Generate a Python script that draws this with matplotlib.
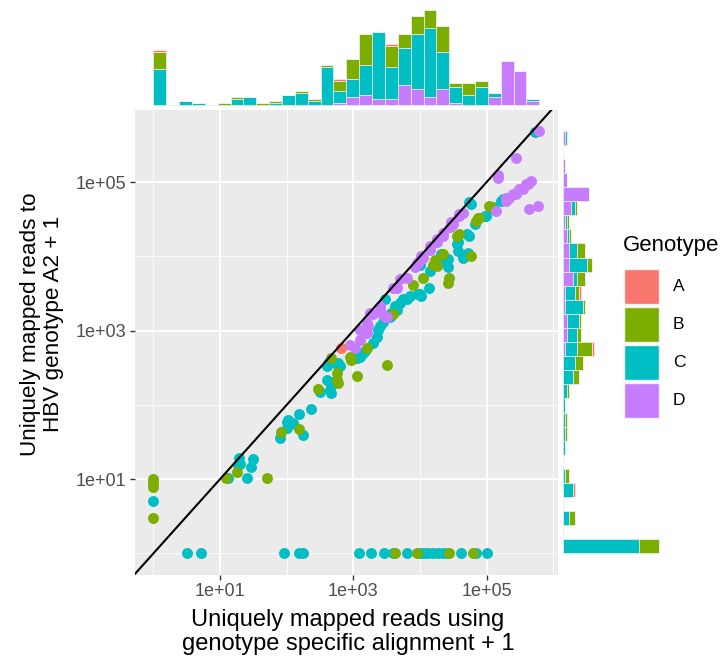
import matplotlib
matplotlib.use('Agg')
import matplotlib.pyplot as plt
import numpy as np
from matplotlib.patches import Rectangle

plt.rcParams['font.family'] = ['Liberation Sans', 'DejaVu Sans']

genotypes = ['A', 'B', 'C', 'D']
colours = {'A': '#F8766D', 'B': '#7CAE00', 'C': '#00BFC4', 'D': '#C77CFF'}

# values are log10(reads + 1)
a_x = [2.82]
a_y = [2.76]

b_x = [0, 0, 0, 0, 3.62, 3.95, 4.44, 4.80,
       1.09, 1.25, 1.70, 1.92, 2.19, 2.47, 2.75, 2.75, 2.77, 2.67, 2.97, 2.95,
       3.06, 3.20, 3.51, 3.60, 3.90, 4.05, 4.20, 4.22, 4.25, 4.35, 4.44, 4.42,
       4.55, 4.59, 4.77, 4.87, 4.84, 4.89, 5.04, 5.07]
b_y = [1.0, 0.95, 0.90, 0.48, 0, 0, 0, 0,
       1.02, 1.10, 1.02, 1.63, 1.68, 2.21, 2.43, 2.34, 2.29, 2.63, 2.61, 2.65,
       2.39, 2.77, 2.54, 3.22, 3.62, 3.71, 3.89, 3.95, 3.87, 4.03, 3.71, 3.64,
       4.27, 4.30, 4.01, 4.52, 4.48, 4.52, 4.68, 4.66]

c_x = [0, 0.50, 0.71, 1.96, 2.19, 2.25, 3.09, 3.26, 3.46, 3.60, 3.81, 4.00,
       4.06, 4.12, 4.19, 4.27, 4.34, 4.40, 4.61, 4.84, 5.00,
       1.12, 1.29, 1.30, 1.27, 1.49, 1.47, 1.41, 1.90, 2.00, 2.00, 2.02, 2.10,
       2.18, 2.25, 2.37, 2.50, 2.60, 2.62, 2.65, 2.67, 2.66, 2.67, 2.77, 2.80,
       2.60, 2.77, 3.05, 3.10, 3.15, 3.17, 3.30, 3.35, 3.37, 3.40, 3.45, 3.47,
       3.55, 3.57, 3.62, 3.65, 3.70, 3.75, 3.80, 3.85, 3.97, 4.02, 4.00, 4.13,
       4.00, 4.15, 4.30, 4.42, 4.42, 4.57, 4.64, 4.64, 4.72, 4.70, 4.57, 4.32,
       4.55, 4.74, 4.74, 4.77, 4.82, 4.97, 4.99, 5.08, 5.10, 5.22, 5.25, 5.72]
c_y = [0.70, 0, 0, 0, 0, 0, 0, 0, 0, 0, 0, 0,
       0, 0, 0, 0, 0, 0, 0, 0, 0,
       1.02, 1.29, 1.20, 1.19, 1.27, 1.17, 1.02, 1.55, 1.77, 1.69, 1.79, 1.75,
       1.88, 1.60, 1.95, 2.18, 2.34, 2.56, 2.20, 2.16, 2.31, 2.27, 2.56, 2.52,
       2.52, 2.52, 2.63, 2.65, 2.70, 2.72, 2.83, 2.92, 3.01, 3.06, 3.12, 3.42,
       3.19, 3.24, 3.33, 3.28, 3.37, 3.42, 3.42, 3.46, 3.49, 3.46, 3.49, 3.57,
       3.89, 3.80, 3.92, 3.85, 3.96, 4.07, 4.00, 3.98, 4.05, 4.30, 4.19, 4.03,
       4.16, 4.27, 4.73, 4.70, 4.43, 4.54, 4.54, 4.64, 4.66, 4.75, 4.77, 5.67]

d_x = [2.95, 3.02, 3.10, 3.10, 3.20, 3.22, 3.20, 3.25, 3.30, 3.42, 3.50, 3.40,
       3.40, 3.47, 3.60, 3.65, 3.70, 3.80, 3.92, 3.95, 3.97, 4.02, 4.05, 4.15,
       4.15, 4.25, 4.25, 4.35, 4.35, 4.45, 4.47, 4.49, 4.59, 4.59, 4.64, 5.14,
       5.17, 5.17, 5.29, 5.29, 5.34, 5.39, 5.44, 5.49, 5.54, 5.59, 5.62, 5.67,
       5.64, 5.77, 5.44, 5.79]
d_y = [2.81, 2.77, 2.88, 3.01, 2.97, 3.06, 3.10, 3.24, 3.22, 3.24, 3.19, 3.33,
       3.28, 3.19, 3.58, 3.58, 3.69, 3.71, 3.85, 3.91, 3.91, 4.00, 3.98, 4.09,
       4.14, 4.19, 4.23, 4.27, 4.32, 4.39, 4.46, 4.43, 4.54, 4.57, 4.59, 4.61,
       5.06, 5.09, 4.75, 4.79, 4.79, 4.84, 4.84, 4.91, 4.91, 4.97, 4.97, 5.02,
       4.64, 4.68, 5.33, 5.69]

points = {'A': (a_x, a_y), 'B': (b_x, b_y), 'C': (c_x, c_y), 'D': (d_x, d_y)}

# marginal histogram bar heights (30 bins, relative counts)
top_bin_start, top_bin_width = 0.0, 0.193
top_counts = {
    'A': [1, 0, 0, 0, 0, 0, 0, 0, 0, 0, 0, 0, 0, 0, 1, 0, 0, 0, 1, 0, 0, 0, 0, 0, 0, 0, 0, 0, 0, 0],
    'B': [8, 0, 0, 0, 0, 1, 1, 0, 1, 1, 0, 1, 1, 1, 5, 10, 15, 0, 10, 7, 9, 9, 13, 2, 6, 3, 0, 0, 0, 0],
    'C': [18, 0, 2, 1, 0, 0, 3, 4, 0, 1, 5, 6, 2, 19, 6, 9, 15, 33, 16, 18, 27, 34, 18, 8, 5, 9, 2, 0, 0, 1],
    'D': [0, 0, 0, 0, 0, 0, 0, 0, 0, 0, 0, 0, 0, 0, 1, 4, 5, 3, 3, 10, 8, 4, 8, 1, 0, 0, 4, 22, 17, 2],
}
right_bin_start, right_bin_width = 0.0, 0.1897
right_counts = {
    'A': [0, 0, 0, 0, 1, 0, 0, 0, 0, 0, 0, 0, 0, 0, 1, 0, 0, 0, 1, 0, 0, 0, 0, 0, 0, 0, 0, 0, 0, 0],
    'B': [10, 0, 3, 0, 0, 2, 0, 0, 1, 1, 0, 1, 3, 4, 7, 2, 1, 1, 2, 4, 2, 4, 1, 1, 1, 0, 0, 0, 0, 0],
    'C': [37, 0, 3, 0, 5, 1, 0, 1, 1, 1, 1, 2, 5, 6, 6, 5, 6, 9, 5, 2, 9, 4, 1, 1, 2, 0, 0, 0, 0, 1],
    'D': [0, 0, 0, 0, 0, 0, 0, 0, 0, 0, 0, 0, 0, 0, 1, 2, 2, 1, 1, 5, 3, 3, 2, 1, 4, 13, 2, 1, 0, 1],
}
hist_order = ['D', 'C', 'B', 'A']

x_lim = (-0.275, 6.07)
y_lim = (-0.29, 5.97)
major = [1, 3, 5]
minor = [0, 2, 4, 6]

W, H = 728, 669
fig = plt.figure(figsize=(W / 100, H / 100), dpi=100)

def box(l, t, r, b):
    return [l / W, (H - b) / H, (r - l) / W, (b - t) / H]

ax = fig.add_axes(box(135, 110, 558, 575))
ax.set_facecolor('#EBEBEB')
ax.set_xscale('log')
ax.set_yscale('log')
ax.set_xlim(10 ** x_lim[0], 10 ** x_lim[1])
ax.set_ylim(10 ** y_lim[0], 10 ** y_lim[1])
for v in minor:
    ax.axvline(10 ** v, color='white', lw=0.6, zorder=0)
    ax.axhline(10 ** v, color='white', lw=0.6, zorder=0)
for v in major:
    ax.axvline(10 ** v, color='white', lw=1.3, zorder=0)
    ax.axhline(10 ** v, color='white', lw=1.3, zorder=0)
ax.set_xticks([10 ** v for v in major])
ax.set_xticklabels(['1e+%02d' % v for v in major])
ax.set_yticks([10 ** v for v in major])
ax.set_yticklabels(['1e+%02d' % v for v in major])
ax.minorticks_off()
ax.tick_params(length=3.5, width=1.0, color='#333333', labelcolor='#4D4D4D',
               labelsize=13, pad=2.5)
for s in ax.spines.values():
    s.set_visible(False)

for g in ['C', 'B', 'D', 'A']:
    px, py = points[g]
    ax.scatter(10 ** np.array(px, dtype=float), 10 ** np.array(py, dtype=float),
               s=62, color=colours[g], linewidths=0, zorder=2)

lo = 10 ** min(x_lim[0], y_lim[0])
hi = 10 ** max(x_lim[1], y_lim[1])
ax.plot([lo, hi], [lo, hi], color='black', lw=1.5, zorder=3)

fig.text(348 / W, (H - 632) / H,
         'Uniquely mapped reads using\ngenotype specific alignment + 1',
         fontsize=17, ha='center', va='center', multialignment='center',
         linespacing=1.1)
fig.text(42 / W, (H - 324) / H,
         'Uniquely mapped reads to\nHBV genotype A2 + 1',
         fontsize=16.2, ha='center', va='center', multialignment='center',
         rotation=90, linespacing=1.15)

# top marginal histogram
axt = fig.add_axes(box(135, 5, 558, 110))
edges_t = top_bin_start + top_bin_width * np.arange(30)
base = np.zeros(30)
for g in hist_order:
    c = np.array(top_counts[g], dtype=float)
    axt.bar(edges_t, c, width=top_bin_width, bottom=base, align='edge',
            color=colours[g], edgecolor='#F0F0F0', linewidth=0.5)
    base += c
mt = base.max()
axt.set_xlim(*x_lim)
axt.set_ylim(-0.05 * mt, 1.05 * mt)
axt.axis('off')

# right marginal histogram
axr = fig.add_axes(box(558, 110, 664, 575))
edges_r = right_bin_start + right_bin_width * np.arange(30)
base = np.zeros(30)
for g in hist_order:
    c = np.array(right_counts[g], dtype=float)
    axr.barh(edges_r, c, height=right_bin_width, left=base, align='edge',
             color=colours[g], edgecolor='#F0F0F0', linewidth=0.5)
    base += c
mr = base.max()
axr.set_ylim(*y_lim)
axr.set_xlim(-0.05 * mr, 1.05 * mr)
axr.axis('off')

# legend
fig.text(623 / W, (H - 245) / H, 'Genotype', fontsize=16, va='center', ha='left')
for i, g in enumerate(genotypes):
    top = 269 + 38 * i
    fig.add_artist(Rectangle((624 / W, (H - top - 35) / H), 35 / W, 35 / H,
                             transform=fig.transFigure, facecolor=colours[g],
                             edgecolor='#F2F2F2', linewidth=1))
    fig.text(673 / W, (H - top - 17.5) / H, g, fontsize=12.5, va='center', ha='left')

fig.savefig('out.png', dpi=100)
